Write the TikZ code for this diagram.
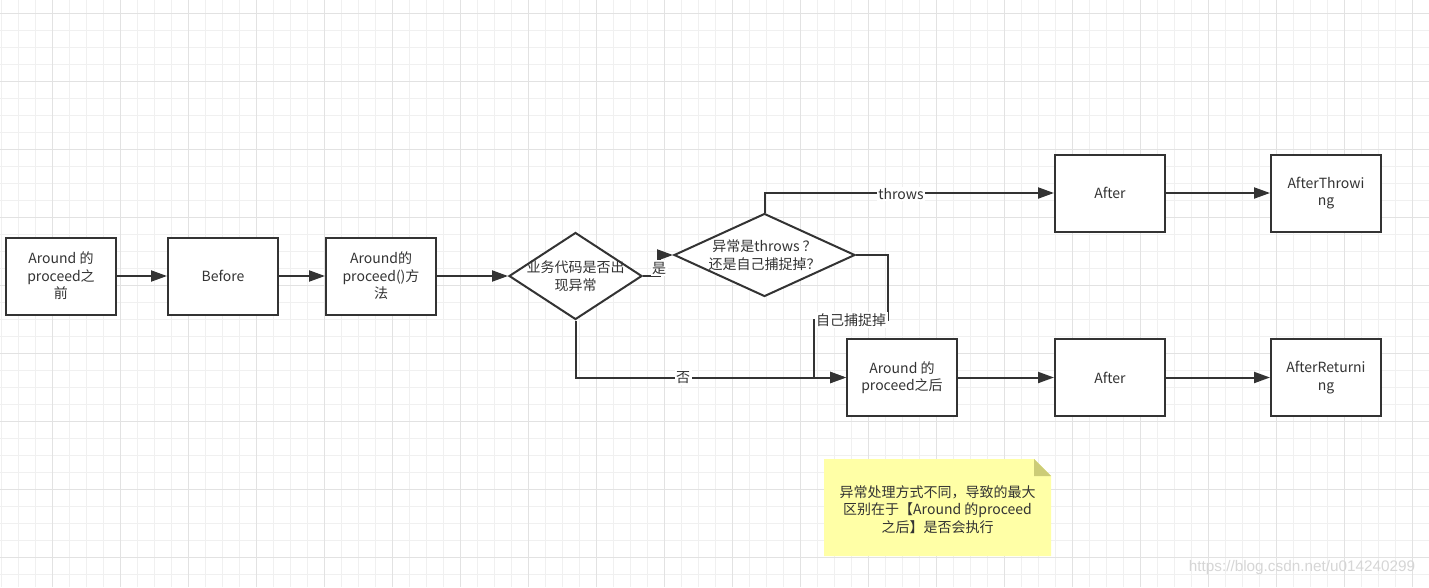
\documentclass[tikz,border=0pt]{standalone}
\usepackage{fontspec}
\setmainfont{Noto Sans CJK SC}
\newfontfamily\wmfont{Liberation Sans}
\usetikzlibrary{arrows.meta,shapes.geometric}
\definecolor{ink}{HTML}{333333}
\definecolor{gridminor}{HTML}{F0F0F0}
\definecolor{gridmajor}{HTML}{E2E2E2}
\definecolor{notefill}{HTML}{FFFFA6}
\definecolor{notefold}{HTML}{CCCC77}
\definecolor{wmcol}{HTML}{D6D6D6}
\begin{document}
\begin{tikzpicture}[x=1pt,y=-1pt,
 every node/.style={font=\fontsize{14}{17.5}\selectfont, text=ink, align=center},
 box/.style={draw=ink, line width=2pt, fill=white, minimum width=110pt, minimum height=77pt, inner sep=0pt},
 dia/.style={diamond, draw=ink, line width=2pt, fill=white, inner sep=0pt},
 arr/.style={draw=ink, line width=2pt, -{Triangle[length=16pt,width=11pt]}},
 lbl/.style={fill=white, inner sep=1.5pt},
 gminor/.style={draw=gridminor, line width=1pt},
 gmajor/.style={draw=gridmajor, line width=1pt},
]
\useasboundingbox (0,0) rectangle (1429,587);
\fill[white] (0,0) rectangle (1429,587);
% grid
\foreach \k in {0,...,84} {
  \pgfmathtruncatemacro\xx{1+17*\k}
  \draw[gminor] (\xx,0) -- (\xx,587);
}
\foreach \k in {0,...,34} {
  \pgfmathtruncatemacro\yy{13+17*\k}
  \draw[gminor] (0,\yy) -- (1429,\yy);
}
\foreach \k in {0,...,20} {
  \pgfmathtruncatemacro\xx{52+68*\k}
  \draw[gmajor] (\xx,0) -- (\xx,587);
}
\foreach \k in {0,...,8} {
  \pgfmathtruncatemacro\yy{13+68*\k}
  \draw[gmajor] (0,\yy) -- (1429,\yy);
}

% nodes
\node[box] (b1) at (61,276) {Around 的\\proceed之\\前};
\node[box] (b2) at (223,276) {Before};
\node[box] (b3) at (381,276) {Around的\\proceed()方\\法};
\node[dia, minimum width=133pt, minimum height=87pt,
      label={[align=center]center:{业务代码是否出\\现异常}}] (d1) at (575.5,276) {};
\node[dia, minimum width=181pt, minimum height=83pt,
      label={[align=center]center:{异常是throws ？\\还是自己捕捉掉？}}] (d2) at (764.5,255) {};
\node[box] (a1) at (1110,193) {After};
\node[box] (t1) at (1326,193) {AfterThrowi\\ng};
\node[box] (r0) at (902,377.5) {Around 的\\proceed之后};
\node[box] (a2) at (1110,377.5) {After};
\node[box] (t2) at (1326,377.5) {AfterReturni\\ng};

\coordinate (k1) at (888,320);
\coordinate (k2) at (814,320);

% connectors
\draw[arr] (b1) -- (b2);
\draw[arr] (b2) -- (b3);
\draw[arr] (b3) -- (d1);
\draw[arr] (d1.east) -- ++(17,0) |- (d2.west);
\draw[arr] (d2.north) |- (a1.west);
\draw[arr] (d1.south) |- (r0.west);
\draw[arr] (d2.east) -| (k1) -- (k2) |- (r0.west);
\draw[arr] (r0) -- (a2);
\draw[arr] (a1) -- (t1);
\draw[arr] (a2) -- (t2);

% connector labels
\node[lbl] (l1) at (659,268) {是};
\node[lbl] (l2) at (901,194) {throws};
\node[lbl] (l3) at (851,320) {自己捕捉掉};
\node[lbl] (l4) at (683,377.5) {否};

% note
\fill[notefill] (824,459) -- (1034,459) -- (1051,476) -- (1051,556) -- (824,556) -- cycle;
\fill[notefold] (1034,459) -- (1051,476) -- (1034,476) -- cycle;
\node (note) at (937.5,509.5) {异常处理方式不同，导致的最大\\区别在于【Around 的proceed\\之后】是否会执行};

% watermark
\node[font=\wmfont\fontsize{15.3}{18}\selectfont, text=wmcol] (wm) at (1302,568) {https://blog.csdn.net/u014240299};
\end{tikzpicture}
\end{document}
